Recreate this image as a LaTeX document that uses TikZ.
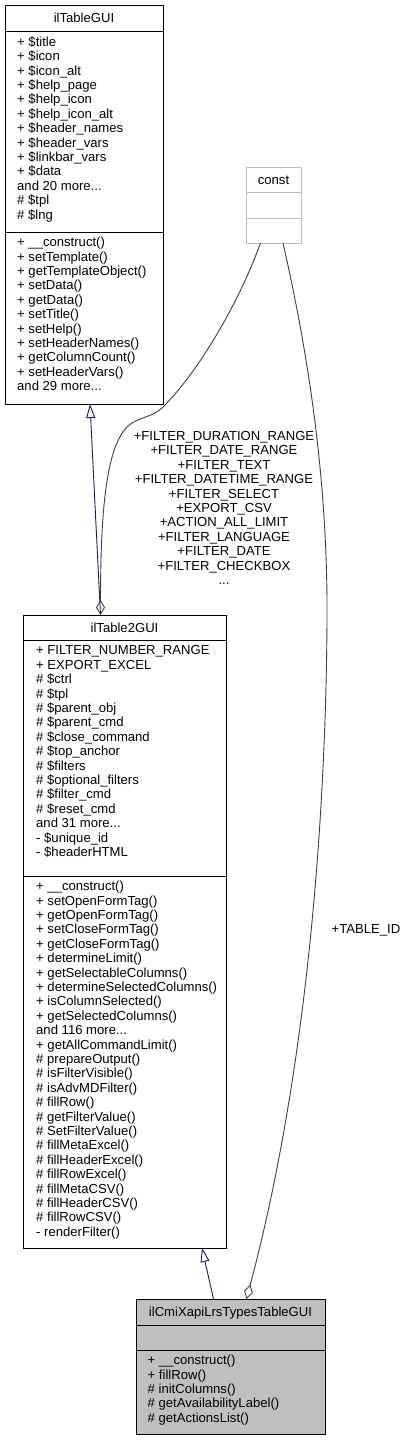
\documentclass[tikz,border=0pt]{standalone}
\usepackage{fontspec}
\setmainfont{Liberation Sans}
\usetikzlibrary{arrows.meta,positioning}
\definecolor{edgeblue}{HTML}{191970}
\definecolor{edgegray}{HTML}{404040}
\definecolor{boxgray}{HTML}{BFBFBF}
\newcommand{\umlfont}{\fontsize{13.1pt}{14.4pt}\selectfont}
\newcommand{\memberstrut}{\rule{0pt}{11pt}}
\tikzset{
  compartment/.style={draw=black, line width=1pt, inner sep=0pt, outer sep=0pt,
    text height=9.4pt, text depth=0pt, font=\umlfont},
  members/.style={anchor=north west, align=left, inner sep=0pt, font=\umlfont,
    execute at begin node=\memberstrut},
  edgelabel/.style={align=center, inner sep=0pt, font=\umlfont},
  inherit/.style={draw=edgeblue, line width=0.9pt, -{Triangle[open,length=14pt,width=9pt]}},
  aggregate/.style={draw=edgegray, line width=0.9pt, -{Diamond[open,length=15pt,width=9pt]}}
}

\begin{document}
\begin{tikzpicture}[x=1pt,y=-1pt]
\useasboundingbox (0,0) rectangle (408,1440);

\node[compartment, minimum width=158pt, minimum height=26.5pt, anchor=north west] (tgname) at (5,5) {ilTableGUI};
\node[compartment, minimum width=158pt, minimum height=200.5pt, below=0pt of tgname] (tgattr) {};
\node[compartment, minimum width=158pt, minimum height=172pt, below=0pt of tgattr] (tgops) {};
\node[members] (tgattrtext) at ([xshift=12pt,yshift=-5pt]tgattr.north west) {+ \$title\\+ \$icon\\+ \$icon\_alt\\+ \$help\_page\\+ \$help\_icon\\+ \$help\_icon\_alt\\+ \$header\_names\\+ \$header\_vars\\+ \$linkbar\_vars\\+ \$data\\and 20 more...\\\# \$tpl\\\# \$lng};
\node[members] (tgopstext) at ([xshift=12pt,yshift=-5pt]tgops.north west) {+ \_\_construct()\\+ setTemplate()\\+ getTemplateObject()\\+ setData()\\+ getData()\\+ setTitle()\\+ setHelp()\\+ setHeaderNames()\\+ getColumnCount()\\+ setHeaderVars()\\and 29 more...};

\node[compartment, draw=boxgray, minimum width=55pt, minimum height=25.5pt, anchor=north west] (cname) at (246,167) {const};
\node[compartment, draw=boxgray, minimum width=55pt, minimum height=25.5pt, below=0pt of cname] (cattr) {};
\node[compartment, draw=boxgray, minimum width=55pt, minimum height=25pt, below=0pt of cattr] (cops) {};

\node[compartment, minimum width=203pt, minimum height=25.5pt, anchor=north west] (t2name) at (23,615) {ilTable2GUI};
\node[compartment, minimum width=203pt, minimum height=235.5pt, below=0pt of t2name] (t2attr) {};
\node[compartment, minimum width=203pt, minimum height=372pt, below=0pt of t2attr] (t2ops) {};
\node[members] (t2attrtext) at ([xshift=13pt,yshift=-5pt]t2attr.north west) {+ FILTER\_NUMBER\_RANGE\\+ EXPORT\_EXCEL\\\# \$ctrl\\\# \$tpl\\\# \$parent\_obj\\\# \$parent\_cmd\\\# \$close\_command\\\# \$top\_anchor\\\# \$filters\\\# \$optional\_filters\\\# \$filter\_cmd\\\# \$reset\_cmd\\and 31 more...\\- \$unique\_id\\- \$headerHTML};
\node[members] (t2opstext) at ([xshift=13pt,yshift=-5pt]t2ops.north west) {+ \_\_construct()\\+ setOpenFormTag()\\+ getOpenFormTag()\\+ setCloseFormTag()\\+ getCloseFormTag()\\+ determineLimit()\\+ getSelectableColumns()\\+ determineSelectedColumns()\\+ isColumnSelected()\\+ getSelectedColumns()\\and 116 more...\\+ getAllCommandLimit()\\\# prepareOutput()\\\# isFilterVisible()\\\# isAdvMDFilter()\\\# fillRow()\\\# getFilterValue()\\\# SetFilterValue()\\\# fillMetaExcel()\\\# fillHeaderExcel()\\\# fillRowExcel()\\\# fillMetaCSV()\\\# fillHeaderCSV()\\\# fillRowCSV()\\- renderFilter()};

\node[compartment, fill=boxgray, minimum width=189pt, minimum height=26pt, anchor=north west] (xname) at (136,1299) {ilCmiXapiLrsTypesTableGUI};
\node[compartment, fill=boxgray, minimum width=189pt, minimum height=25pt, below=0pt of xname] (xattr) {};
\node[compartment, fill=boxgray, minimum width=189pt, minimum height=84pt, below=0pt of xattr] (xops) {};
\node[members] (xopstext) at ([xshift=11.5pt,yshift=-5pt]xops.north west) {+ \_\_construct()\\+ fillRow()\\\# initColumns()\\\# getAvailabilityLabel()\\\# getActionsList()};

\draw[inherit] ([xshift=-24pt]t2name.north) -- ([xshift=6pt]tgops.south);
\draw[inherit] ([xshift=-17pt]xname.north) -- ([xshift=77.5pt]t2ops.south);
\draw[aggregate] ([xshift=-13pt]cops.south) .. controls (240,300) and (200,370) .. (163,407) .. controls (152,418) and (140,416) .. (128,426) .. controls (108,445) and (100.5,500) .. ([xshift=-24pt]t2name.north);
\draw[aggregate] ([xshift=9.5pt]cops.south) .. controls (305,340) and (328,470) .. (327,620) .. controls (326,800) and (310,1060) .. ([xshift=16pt]xname.north);

\node[edgelabel] (filterconsts) at (224,508) {+FILTER\_DURATION\_RANGE\\+FILTER\_DATE\_RANGE\\+FILTER\_TEXT\\+FILTER\_DATETIME\_RANGE\\+FILTER\_SELECT\\+EXPORT\_CSV\\+ACTION\_ALL\_LIMIT\\+FILTER\_LANGUAGE\\+FILTER\_DATE\\+FILTER\_CHECKBOX\\...};
\node[edgelabel] (tableid) at (366,930) {+TABLE\_ID};
\end{tikzpicture}
\end{document}
